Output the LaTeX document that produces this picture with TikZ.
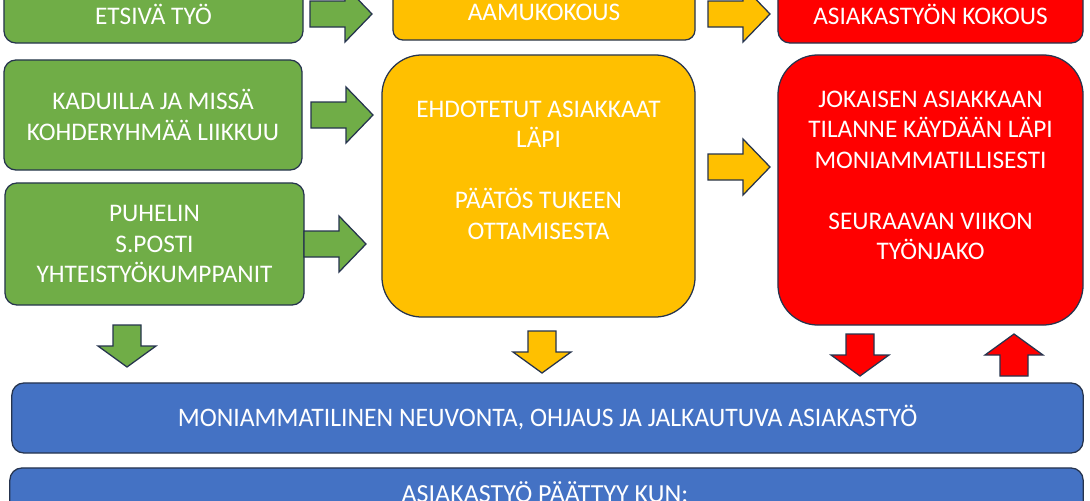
\documentclass[tikz,border=0pt]{standalone}
\usepackage{fontspec}
\setmainfont{Carlito}
\usepackage{graphicx}
\usetikzlibrary{positioning}

\definecolor{lgreen}{HTML}{70AD47}
\definecolor{lyellow}{HTML}{FFC000}
\definecolor{lred}{HTML}{FF0000}
\definecolor{lblue}{HTML}{4472C4}
\definecolor{edge}{RGB}{38,52,78}

\tikzset{
  box/.style={draw=edge, line width=0.9pt, rounded corners=0.3cm, inner sep=0pt,
    text=white, align=center, font=\fontsize{18}{21.7}\selectfont},
  boxtext/.style={text=white, align=center, inner sep=0pt, font=\fontsize{18}{21.7}\selectfont},
  pics/rarrow/.style={code={
    \filldraw[fill=#1, draw=edge, line width=0.9pt]
      (-62,-13) -- (-27,-13) -- (-27,-28) -- (0,0) -- (-27,28) -- (-27,13) -- (-62,13) -- cycle;}},
  pics/darrow/.style={code={
    \filldraw[fill=#1, draw=edge, line width=0.9pt]
      (-14,-42) -- (14,-42) -- (14,-21) -- (29,-21) -- (0,0) -- (-29,-21) -- (-14,-21) -- cycle;}},
}

\begin{document}
\begin{tikzpicture}[x=0.025cm, y=-0.025cm]
  \useasboundingbox (0,0) rectangle (1090,500);
  \clip (0,0) rectangle (1090,500);
  \fill[white] (0,0) rectangle (1090,500);

  % Green column
  \node[box, fill=lgreen, minimum width=7.475cm, minimum height=1.45cm] (etsiva) at (153.5,14) {ETSIVÄ TYÖ};
  \node[box, fill=lgreen, minimum width=7.45cm, minimum height=2.75cm] (kadut) at (153,115)
    {KADUILLA JA MISSÄ\\KOHDERYHMÄÄ LIIKKUU};
  \node[box, fill=lgreen, minimum width=7.475cm, minimum height=3.05cm] (yhteys) at (154.5,244)
    {PUHELIN\\S.POSTI\\YHTEISTYÖKUMPPANIT};

  % Yellow column
  \node[box, fill=lyellow, minimum width=7.55cm, minimum height=1.375cm, rounded corners=0.25cm] (aamu) at (544,12.5) {AAMUKOKOUS};
  \node[box, fill=lyellow, minimum width=7.825cm, minimum height=6.55cm, rounded corners=1cm] (paatos) at (538.5,186) {};
  \node[boxtext] (paatosteksti) at (538.5,170)
    {EHDOTETUT ASIAKKAAT\\LÄPI\\[21.7pt]PÄÄTÖS TUKEEN\\OTTAMISESTA};

  % Red column
  \node[box, fill=lred, minimum width=7.625cm, minimum height=1.45cm] (kokous) at (930.5,14) {ASIAKASTYÖN KOKOUS};
  \node[box, fill=lred, minimum width=7.625cm, minimum height=6.75cm, rounded corners=1cm] (tilanne) at (930.5,190) {};
  \node[boxtext] (tilanneteksti) at (930.5,175.5)
    {JOKAISEN ASIAKKAAN\\TILANNE KÄYDÄÄN LÄPI\\MONIAMMATILLISESTI\\[21.7pt]SEURAAVAN VIIKON\\TYÖNJAKO};

  % Blue bars
  \node[box, fill=lblue, minimum width=26.775cm, minimum height=1.75cm] (neuvonta) at (547.5,418) {};
  \node[boxtext, anchor=base] (neuvontateksti) at (547.5,426)
    {\resizebox{18.475cm}{\height}{\fontsize{19}{23}\selectfont MONIAMMATILINEN NEUVONTA, OHJAUS JA JALKAUTUVA ASIAKASTYÖ}};
  \node[box, fill=lblue, minimum width=26.825cm, minimum height=1.75cm] (paattyy) at (546.5,503) {};
  \node[boxtext, anchor=base] (paattyyteksti) at (545,502)
    {\fontsize{18.5}{23}\selectfont ASIAKASTYÖ PÄÄTTYY KUN:};

  % Block arrows
  \pic at (372,14) {rarrow=lgreen};
  \pic at (373,115) {rarrow=lgreen};
  \pic at (366,244) {rarrow=lgreen};
  \pic at (770,14) {rarrow=lyellow};
  \pic at (770,167) {rarrow=lyellow};
  \pic at (127,367) {darrow=lgreen};
  \pic at (542,373) {darrow=lyellow};
  \pic at (860,376) {darrow=lred};
  \pic[rotate=180] at (1014,334) {darrow=lred};
\end{tikzpicture}
\end{document}
